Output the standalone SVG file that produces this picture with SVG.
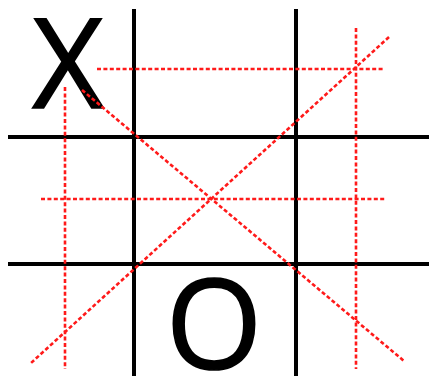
<svg xmlns="http://www.w3.org/2000/svg" width="429" height="376" viewBox="0 0 429 376">
<style>
.grid{stroke:#000;stroke-width:4;fill:none}
.guide{stroke:#ff1a1a;stroke-width:2.6;stroke-dasharray:4 2.4;fill:none}
.mark{font-family:"Open Sans","Liberation Sans",sans-serif;font-size:124px;fill:#000;stroke:#000;stroke-width:1.6;text-anchor:middle}
</style>
<rect width="429" height="376" fill="#fff"/>
<g id="board">
<line class="grid" x1="134" y1="9" x2="134" y2="376"/>
<line class="grid" x1="296" y1="9" x2="296" y2="376"/>
<line class="grid" x1="8" y1="137" x2="429" y2="137"/>
<line class="grid" x1="8" y1="264" x2="429" y2="264"/>
</g>
<g id="cell-x"><text class="mark" x="68" y="108">X</text></g>
<g id="cell-o"><text class="mark" x="214" y="369">O</text></g>
<g id="guides">
<line class="guide" x1="97" y1="69" x2="385" y2="69"/>
<line class="guide" x1="41" y1="199" x2="385" y2="199"/>
<line class="guide" x1="65" y1="87" x2="65" y2="369"/>
<line class="guide" x1="356" y1="28" x2="356" y2="369"/>
<line class="guide" x1="82" y1="90" x2="404" y2="361"/>
<line class="guide" x1="389" y1="37" x2="31" y2="363"/>
</g>
</svg>
